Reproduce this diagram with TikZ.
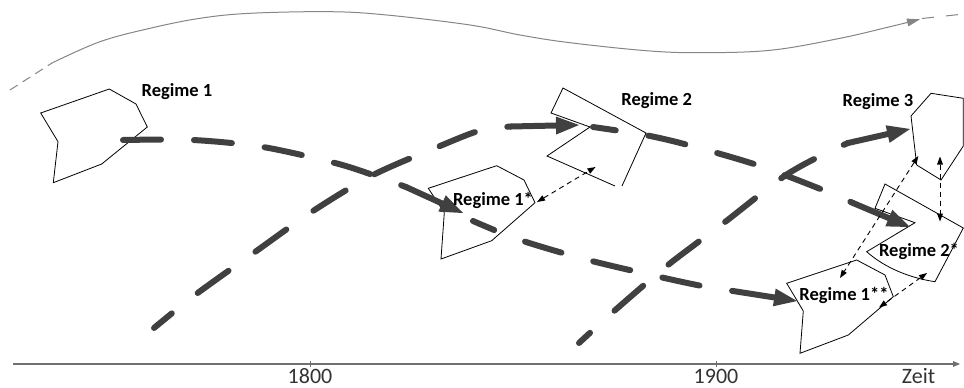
\documentclass[tikz,border=0pt]{standalone}
\usepackage{fontspec}
\setmainfont{Carlito}
\usetikzlibrary{arrows.meta}
\definecolor{thickgray}{HTML}{404040}
\definecolor{axisgray}{HTML}{707070}
\definecolor{topgray}{HTML}{858585}
\definecolor{textgray}{HTML}{333333}
\begin{document}
\begin{tikzpicture}[x=1pt,y=-1pt,
 poly/.style={draw=black,line width=0.8pt},
 flow/.style={draw=thickgray,line width=6pt,line cap=round,dash pattern=on 38pt off 33pt},
 flowhead/.style={draw=thickgray,line width=6pt,line cap=round,-{Triangle[length=23pt,width=18pt,line width=0pt]}},
 link/.style={draw=black,line width=0.9pt,dash pattern=on 5pt off 4pt,{Triangle[length=8pt,width=6pt,line width=0pt]}-{Triangle[length=8pt,width=6pt,line width=0pt]}},
 lbl/.style={font=\fontsize{18.5}{20}\selectfont\bfseries,anchor=base,inner sep=0pt},
 axlbl/.style={font=\fontsize{22}{24}\selectfont,text=textgray,anchor=base,inner sep=0pt},
 toparc/.style={draw=topgray,line width=1pt}]

\useasboundingbox (0,0) rectangle (964,388);

% ---------- time axis ----------
\coordinate (axL) at (13,364);
\coordinate (axR) at (960,364);
\draw[axisgray,line width=1.2pt,-{Triangle[length=7pt,width=6pt,line width=0pt]}] (axL) -- (axR);
\draw[axisgray,line width=1pt] (310.7,360.5) -- (310.7,367);
\draw[axisgray,line width=1pt] (716.7,360.5) -- (716.7,367);
\node[axlbl] (y1800) at (310,383) {1800};
\node[axlbl] (y1900) at (716,383) {1900};
\node[axlbl] (zeit) at (918.5,383) {Zeit};

% ---------- top arc ----------
\coordinate (tA) at (10,90);
\coordinate (tB) at (52,63);
\coordinate (tD) at (922,18.5);
\coordinate (tE) at (964,14);
\draw[toparc,dash pattern=on 9pt off 6pt] (tA) -- (tB);
\draw[toparc,-{Triangle[length=13pt,width=8pt,line width=0pt]}] plot[smooth,tension=0.6] coordinates {(52,63) (100,41.7) (150,28.3) (200,18.3) (250,13.3) (330,11.7) (386.7,15) (470,25) (520,35) (570,42.7) (650,51) (706.7,52.7) (773,50) (840,38.3) (890,26.7) (920,19.3)};
\draw[toparc,dash pattern=on 12pt off 12pt] (tD) -- (tE);

% ---------- regime polygons ----------
\draw[poly] (40.7,113) -- (109.3,89) -- (136,104) -- (147.3,127) -- (101.7,164) -- (53.3,182.7) -- (58,141.7) -- cycle;
\draw[poly] (615,186) -- (547,156) -- (590,127) -- (551,113) -- (563,88) -- (646,133) -- (622,186);
\draw[poly] (428.3,188.3) -- (496.7,165.7) -- (524,180) -- (535,202.7) -- (491.7,240.7) -- (441,259) -- (444.3,212.7) -- cycle;
\draw[poly] (931,93.3) -- (963.3,98.3) -- (963.3,146) -- (941,180) -- (916.7,165) -- (911,116) -- cycle;
\draw[poly] (885,184) -- (875,208.3) -- (915,222.7) -- (866.7,251.7) .. controls (885,268) and (910,278) .. (935,281.7) -- (963.3,228) -- cycle;
\draw[poly] (786.7,283.3) -- (856.7,260) -- (885,275) -- (893.3,296.7) -- (848.3,335) -- (800,353.3) -- (803.3,311) -- cycle;

% ---------- thick dashed trajectories ----------
% A: Regime 1 -> Regime 1*
\coordinate (A0) at (123,140);
\coordinate (A1) at (406,187);
\coordinate (A2) at (463,213);
\draw[flow] plot[smooth,tension=0.5] coordinates {(A0) (193,140) (263,147) (335,163) (373,175) (A1)};
\draw[flowhead] (A1) -- (A2);
% B: rising -> Regime 2
\coordinate (B0) at (154,328);
\coordinate (B1) at (511,126.5);
\coordinate (B2) at (579,125);
\draw[flow,dash phase=15pt] plot[smooth,tension=0.5] coordinates {(B0) (195,295) (255,252) (313,211) (373,175) (440,146) (480,130.5) (B1)};
\draw[flowhead] (B1) -- (B2);
% C: Regime 2 -> Regime 2*
\coordinate (C0) at (593,127);
\coordinate (C1) at (853,203);
\coordinate (C2) at (910,227);
\draw[flow,dash phase=15pt] plot[smooth,tension=0.5] coordinates {(C0) (645,135) (688,145) (757,165) (823,190) (C1)};
\draw[flowhead] (C1) -- (C2);
% D: Regime 1* -> Regime 1**
\coordinate (D0) at (473,221);
\coordinate (D1) at (733,291);
\coordinate (D2) at (797,301);
\draw[flow,dash phase=15pt] plot[smooth,tension=0.5] coordinates {(D0) (520,240) (588,260) (660,277) (702,286) (D1)};
\draw[flowhead] (D1) -- (D2);
% E: rising -> Regime 3
\coordinate (E0) at (579,343);
\coordinate (E1) at (848,143);
\coordinate (E2) at (910,129);
\draw[flow,dash phase=23pt] plot[smooth,tension=0.5] coordinates {(E0) (613,312) (668,265) (725,222) (783,177) (822,155) (E1)};
\draw[flowhead] (E1) -- (E2);

% ---------- thin dashed links ----------
\coordinate (L1a) at (537,202);
\coordinate (L1b) at (595.5,167);
\coordinate (L2a) at (940,156.5);
\coordinate (L2b) at (940,221.5);
\coordinate (L3a) at (918.3,156);
\coordinate (L3b) at (840,278);
\coordinate (L4a) at (927,273);
\coordinate (L4b) at (879,307.5);
\draw[link] (L1a) -- (L1b);
\draw[link] (L2a) -- (L2b);
\draw[link] (L3a) -- (L3b);
\draw[link] (L4a) -- (L4b);

% ---------- labels ----------
\node[lbl] (r1) at (177,96) {Regime 1};
\node[lbl] (r2) at (656.7,105) {Regime 2};
\node[lbl] (r3) at (878,106) {Regime 3};
\node[lbl] (r1s) at (493,205) {Regime 1*};
\node[lbl] (r2s) at (919,256.7) {Regime 2*};
\node[lbl] (r1ss) at (844,300.7) {Regime 1**};
\end{tikzpicture}
\end{document}
